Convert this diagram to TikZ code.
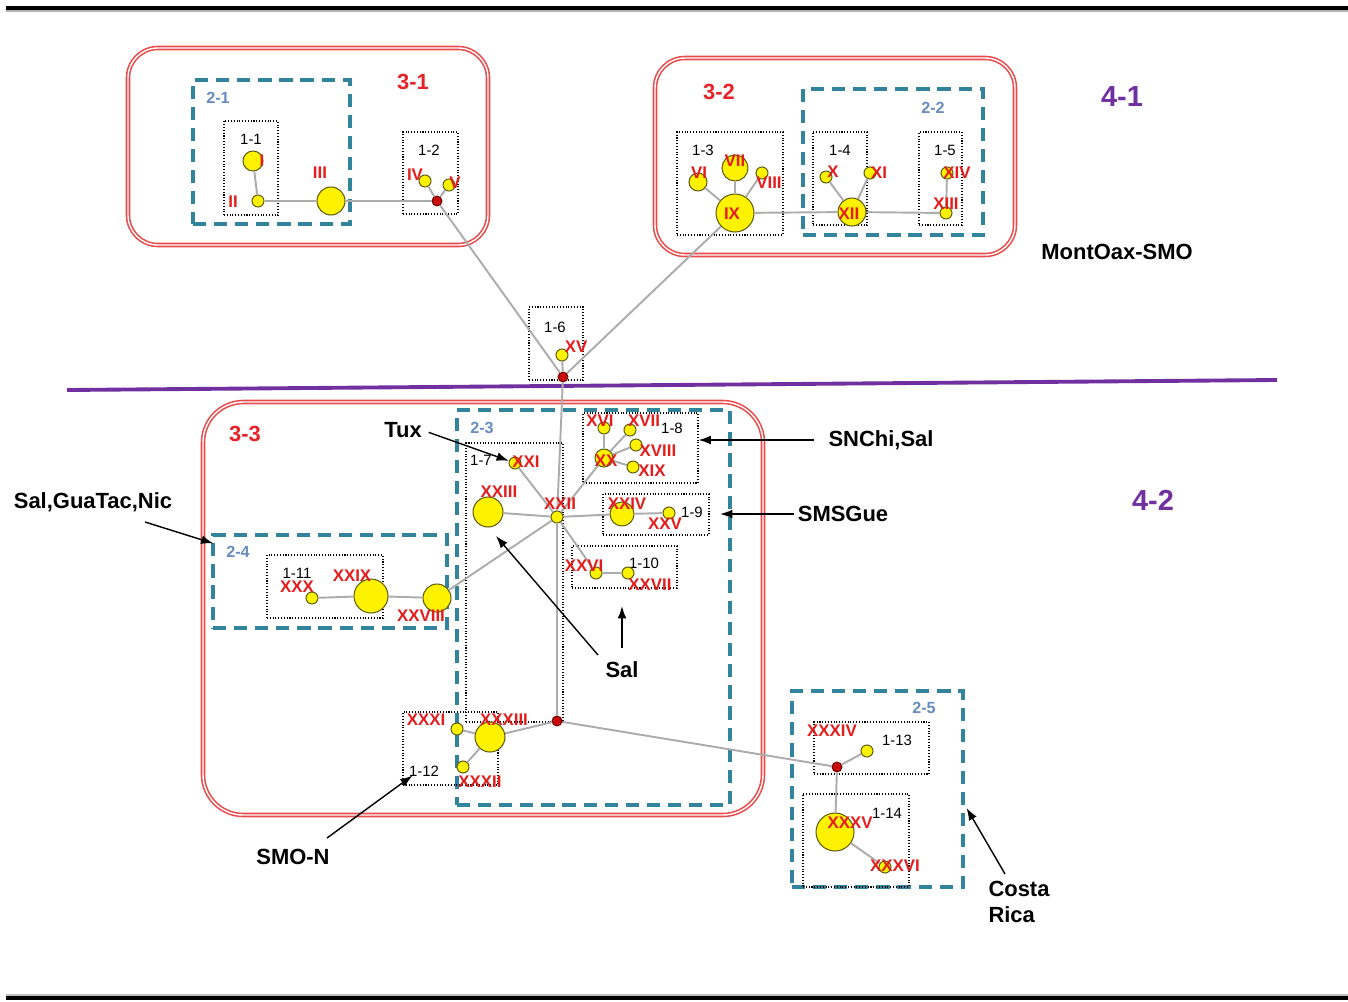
\documentclass[tikz,border=0pt]{standalone}
\usepackage{fontspec}
\setmainfont{Liberation Sans}
\usetikzlibrary{arrows.meta,fit}
\definecolor{hapline}{RGB}{95,95,20}
\definecolor{mvred}{RGB}{200,10,10}
\definecolor{numred}{RGB}{228,28,28}
\definecolor{boxred}{RGB}{232,75,75}
\definecolor{grpred}{RGB}{230,35,40}
\definecolor{tealbox}{RGB}{49,132,155}
\definecolor{twoblue}{RGB}{105,140,190}
\definecolor{regpurple}{RGB}{112,48,160}
\begin{document}
\begin{tikzpicture}[x=0.02cm,y=-0.02cm,
  hap/.style={circle,draw=hapline,fill=yellow,line width=0.6pt,inner sep=0pt,minimum size={#1*0.4mm}},
  mv/.style={circle,draw=red!40!black,fill=mvred,line width=0.5pt,inner sep=0pt,minimum size=2mm},
  edge/.style={gray!65,line width=1.1pt},
  rn/.style={text=numred,font=\fontsize{9.6}{9.6}\selectfont\bfseries,inner sep=0pt},
  onebox/.style={draw,densely dotted,line width=0.6pt,inner sep=0pt},
  twobox/.style={draw=tealbox,line width=1.8pt,dash pattern=on 7.5pt off 4.5pt,inner sep=0pt},
  threebox/.style={draw=boxred,double=white,double distance=0.8pt,line width=0.9pt,rounded corners=#1,inner sep=0pt},
  onelab/.style={font=\fontsize{8.5}{8.5}\selectfont,inner sep=0pt},
  twolab/.style={text=twoblue,font=\fontsize{9.2}{9.2}\selectfont\bfseries,inner sep=0pt},
  threelab/.style={text=grpred,font=\fontsize{12.5}{12.5}\selectfont\bfseries,inner sep=0pt},
  fourlab/.style={text=regpurple,font=\fontsize{16.5}{16.5}\selectfont\bfseries,inner sep=0pt},
  note/.style={font=\fontsize{12.5}{14.7}\selectfont\bfseries,align=left,inner sep=0pt},
  arr/.style={-{Latex[length=7pt,width=5pt]},line width=0.8pt}]
\useasboundingbox (0,0) rectangle (1348,1001);
\draw[line width=2.2pt] (6,8) -- (1348,8);
\draw[gray!60,line width=0.8pt] (6,11) -- (1348,11);
\draw[gray!50,line width=0.8pt] (6,995) -- (1348,995);
\draw[line width=2.2pt] (6,998) -- (1348,998);
\draw[regpurple,line width=2.2pt] (67,390) -- (1277,380);
\node[threebox=17pt,fit={(128,48)(488,245)}] (g31) {};
\node[threebox=17pt,fit={(655,58)(1015,255)}] (g32) {};
\node[threebox=23pt,fit={(203,402)(763,815)}] (g33) {};
\foreach \n/\a/\b/\c/\d/\lx/\ly in {2-1/193/80/350/224/218/98,2-2/803/89/983/235/933/108,
    2-3/457/410/730/805/482/428,2-4/213/535/447/628/238/552,2-5/792/691/963/887/924/708}{
  \node[twobox,fit={(\a,\b)(\c,\d)}] (b\n) {};
  \node[twolab] (l\n) at (\lx,\ly) {\n};
}
\foreach \n/\a/\b/\c/\d/\lx/\ly in {1-1/224/121/278/215/251/139,1-2/403/132/458/214/429/150,
    1-3/677/132/783/235/703/150,1-4/813/132/867/225/840/150,1-5/919/132/962/225/945/150,
    1-6/529/307/583/380/555/327,1-7/466/443/563/722/481/460,1-8/583/413/698/483/672/428,
    1-9/603/494/709/535/692/512,1-10/572/546/677/588/644/563,1-11/267/555/383/618/297/573,
    1-12/403/712/498/785/424/771,1-13/814/722/929/774/897/740,1-14/803/794/909/887/887/813}{
  \node[onebox,fit={(\a,\b)(\c,\d)}] (b\n) {};
  \node[onelab] (l\n) at (\lx,\ly) {\n};
}
\node[threelab] (l3-1) at (413,82) {3-1};
\node[threelab] (l3-2) at (719,92) {3-2};
\node[threelab] (l3-3) at (245,434) {3-3};
\node[fourlab] (l4-1) at (1122,97) {4-1};
\node[fourlab] (l4-2) at (1153,500) {4-2};
\foreach \n/\x/\y/\r in {I/253/161/10,II/258/201/6,III/331/201/14,IV/425/181/6,V/449/185/6,
    VI/698/182/9,VII/735/168/13,VIII/762/173/6,IX/735/213/19,X/826/177/6,XI/870/173/6,
    XII/852/212/14,XIII/946/213/6,XIV/947/173/6,XV/562/355/6,XVI/604/428/6,XVII/630/430/6,
    XVIII/636/445/6,XIX/633/467/6,XX/604/458/9,XXI/515/463/6,XXII/557/517/6,XXIII/488/512/15,
    XXIV/622/514/12,XXV/669/513/6,XXVI/596/573/6,XXVII/628/573/6,XXVIII/437/598/14,
    XXIX/371/596/17,XXX/312/598/6,XXXI/457/729/6,XXXII/463/767/6,XXXIII/490/737/15,
    XXXIV/867/751/6,XXXV/835/832/19,XXXVI/885/867/6}
  \node[hap=\r] (\n) at (\x,\y) {};
\node[mv] (m1) at (437,201) {};
\node[mv] (m2) at (563,377) {};
\node[mv] (m3) at (557,721) {};
\node[mv] (m4) at (837,767) {};
\foreach \a/\b in {I/II,II/III,III/m1,m1/IV,m1/V,m1/m2,m2/XV,m2/IX,IX/VI,IX/VII,IX/VIII,IX/XII,
    XII/X,XII/XI,XII/XIII,XIII/XIV,m2/XXII,XXII/XXI,XXII/XXIII,XXII/XX,XX/XVI,XX/XVII,XX/XVIII,
    XX/XIX,XXII/XXIV,XXIV/XXV,XXII/XXVI,XXVI/XXVII,XXII/XXVIII,XXVIII/XXIX,XXIX/XXX,XXII/m3,
    m3/XXXIII,XXXIII/XXXI,XXXIII/XXXII,m3/m4,m4/XXXIV,m4/XXXV,XXXV/XXXVI}
  \draw[edge] (\a) -- (\b);
\foreach \t/\x/\y in {I/262/161,II/233/202,III/320/173,IV/415/175,V/455/183,VI/699/173,
    VII/735/161,VIII/769/183,IX/732/214,X/833/172,XI/879/173,XII/849/214,XIII/946/204,
    XIV/957/173,XV/576/347,XVI/600/421,XVII/644/421,XVIII/658/451,XIX/652/471,XX/606/461,
    XXI/526/462,XXII/560/504,XXIII/499/492,XXIV/627/504,XXV/665/524,XXVI/584/566,
    XXVII/650/585,XXVIII/421/616,XXIX/352/576,XXX/297/587,XXXI/426/720,XXXII/480/782,
    XXXIII/504/720,XXXIV/832/731,XXXV/850/823,XXXVI/895/866}
  \node[rn] (t\t) at (\x,\y) {\t};
\node[note] (mont) at (1117,252) {MontOax-SMO};
\node[note] (tux) at (403,430) {Tux};
\node[note] (snchi) at (881,440) {SNChi,Sal};
\node[note] (sgtn) at (93,502) {Sal,GuaTac,Nic};
\node[note] (smsg) at (843,514) {SMSGue};
\node[note] (sal) at (622,670) {Sal};
\node[note] (smon) at (293,857) {SMO-N};
\node[note] (costa) at (1019,902) {Costa\\Rica};
\draw[arr,shorten <=4pt] (tux.east) -- (XXI);
\draw[arr,shorten <=8pt] (snchi.west) -- (snchi.west -| b1-8.east);
\draw[arr,shorten <=2pt,shorten >=6pt] (smsg.west) -- (smsg.west -| b1-9.east);
\draw[arr] ([shift={(52,20)}]sgtn.center) -- ([shift={(2,10)}]b2-4.north west);
\draw[arr] ([shift={(-24,-15)}]sal.center) -- ([shift={(8,24)}]XXIII.center);
\draw[arr,shorten <=8pt,shorten >=10pt] (sal.north) -- (sal.north |- b1-10.south);
\draw[arr] ([shift={(34,-19)}]smon.center) -- ([shift={(10,-10)}]b1-12.south west);
\draw[arr] ([shift={(-14,-7)}]costa.north) -- ([shift={(2,19)}]b2-5.east);
\end{tikzpicture}
\end{document}
